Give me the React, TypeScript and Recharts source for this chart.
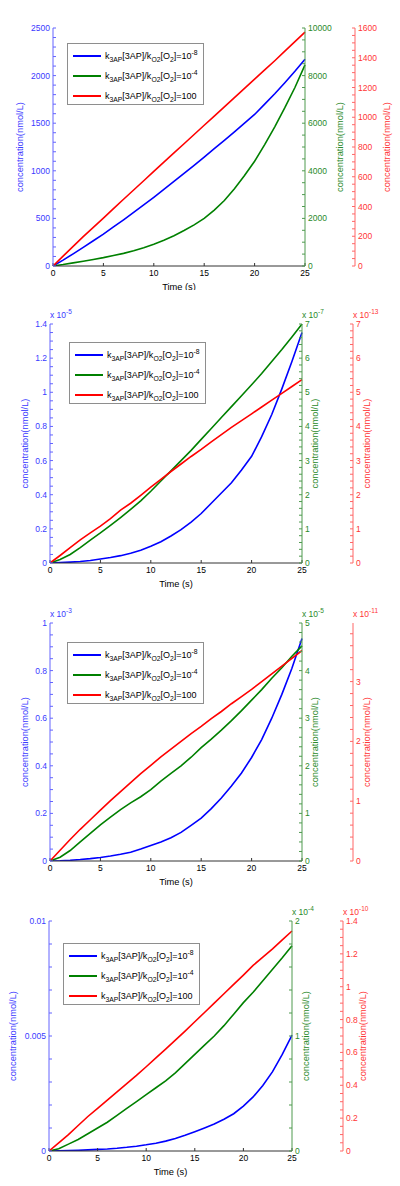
import React from "react";
import { LineChart, Line, XAxis, YAxis, Legend } from "recharts";

const FONT = '"Liberation Sans", Arial, Helvetica, sans-serif';

// time (s), one sample per second
const time = [0, 1, 2, 3, 4, 5, 6, 7, 8, 9, 10, 11, 12, 13, 14, 15, 16, 17, 18, 19, 20, 21, 22, 23, 24, 25];
const xTicks = [0, 5, 10, 15, 20, 25];

// k3AP[3AP]/kO2[O2] for the three runs (legend)
const ratioNames = ["10^-8", "10^-4", "100"];

// NO2, nmol/L
const no2Blue = [0, 62, 128, 196, 265, 334, 410, 485, 563, 642, 722, 805, 888, 972, 1058, 1144, 1232, 1320, 1410, 1500, 1592, 1700, 1810, 1925, 2045, 2172];
const no2Green = [0, 60, 130, 200, 275, 352, 440, 530, 640, 770, 915, 1080, 1270, 1490, 1730, 2000, 2350, 2750, 3250, 3800, 4400, 5100, 5850, 6650, 7500, 8450];
const no2Red = [0, 66, 132, 197, 260, 322, 386, 449, 511, 573, 636, 698, 760, 822, 884, 946, 1008, 1070, 1132, 1194, 1256, 1318, 1380, 1444, 1508, 1572];

// CH3CO, blue x1e-5, green x1e-7, red x1e-13
const ch3coBlue = [0, 0.002, 0.005, 0.009, 0.015, 0.023, 0.032, 0.043, 0.057, 0.075, 0.098, 0.125, 0.158, 0.195, 0.24, 0.29, 0.35, 0.41, 0.47, 0.545, 0.625, 0.74, 0.87, 1.02, 1.18, 1.35];
const ch3coGreen = [0, 0.1, 0.25, 0.45, 0.67, 0.88, 1.1, 1.33, 1.57, 1.82, 2.1, 2.4, 2.7, 3.0, 3.3, 3.62, 3.94, 4.26, 4.58, 4.9, 5.22, 5.55, 5.9, 6.25, 6.62, 7.0];
const ch3coRed = [0, 0.22, 0.45, 0.68, 0.88, 1.08, 1.3, 1.55, 1.75, 1.98, 2.22, 2.45, 2.68, 2.9, 3.12, 3.33, 3.55, 3.76, 3.97, 4.17, 4.37, 4.57, 4.77, 4.97, 5.17, 5.37];

// OH, blue x1e-3, green x1e-5, red x1e-11
const ohBlue = [0, 0.001, 0.003, 0.006, 0.01, 0.015, 0.021, 0.028, 0.037, 0.05, 0.065, 0.08, 0.098, 0.12, 0.15, 0.18, 0.22, 0.265, 0.315, 0.37, 0.435, 0.51, 0.6, 0.7, 0.81, 0.935];
const ohGreen = [0, 0.08, 0.22, 0.4, 0.58, 0.76, 0.92, 1.08, 1.22, 1.35, 1.5, 1.68, 1.84, 2.0, 2.18, 2.38, 2.56, 2.75, 2.95, 3.16, 3.38, 3.6, 3.84, 4.06, 4.3, 4.52];
const ohRed = [0, 0.18, 0.36, 0.53, 0.69, 0.85, 1.01, 1.16, 1.31, 1.46, 1.6, 1.74, 1.87, 2.0, 2.13, 2.25, 2.38, 2.5, 2.63, 2.75, 2.87, 3.0, 3.13, 3.26, 3.39, 3.52];

// HO2, blue x1e-3 (axis shows plain values), green x1e-4, red x1e-10
const ho2Blue = [0, 0.005, 0.015, 0.03, 0.05, 0.07, 0.09, 0.12, 0.16, 0.21, 0.27, 0.34, 0.43, 0.54, 0.68, 0.84, 1.0, 1.17, 1.38, 1.62, 1.95, 2.35, 2.85, 3.45, 4.2, 5.04];
const ho2Green = [0, 0.02, 0.06, 0.1, 0.15, 0.2, 0.25, 0.31, 0.37, 0.43, 0.49, 0.55, 0.61, 0.68, 0.76, 0.84, 0.92, 1.0, 1.09, 1.19, 1.29, 1.38, 1.48, 1.58, 1.68, 1.785];
const ho2Red = [0, 0.05, 0.1, 0.155, 0.21, 0.26, 0.31, 0.36, 0.41, 0.46, 0.513, 0.567, 0.62, 0.675, 0.73, 0.787, 0.843, 0.9, 0.957, 1.014, 1.071, 1.13, 1.18, 1.23, 1.285, 1.339];

const COLORS = {
  b: { line: "#0000ff", axis: "#6464ff", text: "#3a3aff" },
  g: { line: "#008000", axis: "#4f9a4f", text: "#2a8a2a" },
  r: { line: "#ff0000", axis: "#ff6666", text: "#ff3535" },
};

interface AxisSpec {
  max: number;
  major: number;
  minor: number;
  titleDx: number;
  exp?: string;
  scale?: number;
}

interface PanelSpec {
  title: string;
  height: number;
  top: number;
  plotH: number;
  left: number;
  plotW: number;
  greenW: number;
  titleDy: number;
  legendX: number;
  legendY: number;
  blue: number[];
  green: number[];
  red: number[];
  b: AxisSpec;
  g: AxisSpec;
  r: AxisSpec;
}

const panels: PanelSpec[] = [
  {
    title: "NO_2", height: 290, top: 28, plotH: 238, left: 53, plotW: 252, greenW: 50, titleDy: -11, legendX: 67, legendY: 43,
    blue: no2Blue, green: no2Green, red: no2Red,
    b: { max: 2500, major: 500, minor: 100, titleDx: -33 },
    g: { max: 10000, major: 2000, minor: 500, titleDx: 35 },
    r: { max: 1600, major: 200, minor: 50, titleDx: 32 },
  },
  {
    title: "CH_3CO", height: 300, top: 34, plotH: 239, left: 50, plotW: 252, greenW: 51, titleDy: -15, legendX: 69, legendY: 52,
    blue: ch3coBlue, green: ch3coGreen, red: ch3coRed,
    b: { max: 1.4, major: 0.2, minor: 0.05, titleDx: -25, exp: "-5" },
    g: { max: 7, major: 1, minor: 0.2, titleDx: 13, exp: "-7" },
    r: { max: 7, major: 1, minor: 0.2, titleDx: 14, exp: "-13" },
  },
  {
    title: "OH", height: 300, top: 33, plotH: 238, left: 50, plotW: 252, greenW: 51, titleDy: -11, legendX: 67, legendY: 52,
    blue: ohBlue, green: ohGreen, red: ohRed,
    b: { max: 1, major: 0.2, minor: 0.05, titleDx: -25, exp: "-3" },
    g: { max: 5, major: 1, minor: 0.2, titleDx: 13, exp: "-5" },
    r: { max: 3.98, major: 1, minor: 0.2, titleDx: 14, exp: "-11" },
  },
  {
    title: "HO_2", height: 296, top: 31, plotH: 230, left: 49, plotW: 243, greenW: 51, titleDy: -11, legendX: 63, legendY: 53,
    blue: ho2Blue, green: ho2Green, red: ho2Red,
    b: { max: 10, major: 5, minor: 1, titleDx: -36, scale: 0.001 },
    g: { max: 2, major: 1, minor: 0.2, titleDx: 14, exp: "-4" },
    r: { max: 1.4, major: 0.2, minor: 0.05, titleDx: 20, exp: "-10" },
  },
];

function tickList(max: number, step: number) {
  const n = Math.floor(max / step + 1e-9);
  return Array.from({ length: n + 1 }, (_, i) => +(i * step).toFixed(6));
}

function majorFormatter(major: number, scale = 1) {
  return (v: number) => {
    const k = v / major;
    if (Math.abs(k - Math.round(k)) > 1e-6) return "";
    return String(+(v * scale).toFixed(6));
  };
}

function withSubs(text: string, size: number) {
  const parts = text.split(/_(.)/);
  return parts.map((p, i) =>
    i % 2 ? (
      <tspan key={i} dy={3} fontSize={size * 0.75}>{p}</tspan>
    ) : (
      <tspan key={i} dy={i > 0 ? -3 : 0}>{p}</tspan>
    )
  );
}

// eslint-disable-next-line @typescript-eslint/no-explicit-any
function AxisTitle(props: any) {
  const { viewBox, side, shift, tint, exp } = props;
  if (!viewBox) return null;
  const { x, y, width, height } = viewBox;
  const axisX = side === "left" ? x + width : x;
  const cx = axisX + shift;
  const cy = y + height / 2;
  return (
    <g>
      <text x={cx} y={cy} transform={`rotate(-90 ${cx} ${cy})`} textAnchor="middle" dominantBaseline="central" fill={tint} fontSize={9.3} fontFamily={FONT}>
        concentration(nmol/L)
      </text>
      {exp && (
        <text x={axisX} y={y - 6} fill={tint} fontSize={8.5} fontFamily={FONT}>
          x 10<tspan dy={-4} fontSize={6.5}>{exp}</tspan>
        </text>
      )}
    </g>
  );
}

// eslint-disable-next-line @typescript-eslint/no-explicit-any
function TimeLabel({ viewBox }: any) {
  if (!viewBox) return null;
  return (
    <text x={viewBox.x + viewBox.width / 2} y={viewBox.y + 20.5} textAnchor="middle" dominantBaseline="central" fill="#000" fontSize={9.3} fontFamily={FONT}>
      Time (s)
    </text>
  );
}

// eslint-disable-next-line @typescript-eslint/no-explicit-any
function PanelTitle(props: any) {
  const { viewBox, text, lift } = props;
  if (!viewBox) return null;
  return (
    <text x={viewBox.x + viewBox.width / 2} y={viewBox.y + lift} textAnchor="middle" dominantBaseline="central" fill="#000" fontSize={9.3} fontFamily={FONT}>
      {withSubs(text, 9.3)}
    </text>
  );
}

function ratioText(name: string) {
  const [base, exp] = name.split("^");
  const sub = { fontSize: 6.8, position: "relative" as const, top: 2.5 };
  return (
    <span>
      k<span style={sub}>3AP</span>[3AP]/k<span style={sub}>O2</span>[O<span style={sub}>2</span>]={base}
      {exp && <span style={{ fontSize: 6.8, position: "relative", top: -4 }}>{exp}</span>}
    </span>
  );
}

// eslint-disable-next-line @typescript-eslint/no-explicit-any
function RatioLegend({ payload }: any) {
  const items = [...(payload || [])].sort(
    (a: { value: string }, b: { value: string }) => ratioNames.indexOf(a.value) - ratioNames.indexOf(b.value)
  );
  return (
    <div
      style={{
        width: 137, height: 62, boxSizing: "border-box", border: "1px solid #8e8e8e", background: "#fff",
        paddingTop: 2, fontFamily: FONT, fontSize: 9, color: "#000",
      }}
    >
      {items.map((entry: { value: string; color: string }, i: number) => (
        <div key={i} style={{ display: "flex", alignItems: "center", height: 20, whiteSpace: "nowrap" }}>
          <span style={{ display: "inline-block", width: 28, height: 0, borderTop: `2px solid ${entry.color}`, marginLeft: 5, marginRight: 4 }} />
          {ratioText(entry.value)}
        </div>
      ))}
    </div>
  );
}

function yAxis(id: "b" | "g" | "r", spec: AxisSpec, width: number) {
  const c = COLORS[id];
  const side = id === "b" ? "left" : "right";
  return (
    <YAxis
      yAxisId={id}
      orientation={side}
      width={width}
      type="number"
      domain={[0, spec.max]}
      ticks={tickList(spec.max, spec.minor)}
      interval={0}
      allowDataOverflow
      tickFormatter={majorFormatter(spec.major, spec.scale)}
      tickSize={-3}
      tickMargin={6}
      axisLine={{ stroke: c.axis }}
      tickLine={{ stroke: c.axis }}
      tick={{ fill: c.text, fontSize: 8.5, fontFamily: FONT }}
      label={<AxisTitle side={side} shift={spec.titleDx} tint={c.text} exp={spec.exp} />}
    />
  );
}

function Panel({ spec }: { spec: PanelSpec }) {
  const rows = time.map((t, i) => ({ t, b: spec.blue[i], g: spec.green[i], r: spec.red[i] }));
  const redW = 400 - spec.left - spec.plotW - spec.greenW;
  const bottomH = spec.height - spec.top - spec.plotH;
  const series: ("b" | "g" | "r")[] = ["b", "g", "r"];
  return (
    <LineChart width={400} height={spec.height} data={rows} margin={{ top: spec.top, right: 0, bottom: 0, left: 0 }}>
      <XAxis
        dataKey="t"
        type="number"
        domain={[0, 25]}
        ticks={xTicks}
        interval={0}
        height={bottomH}
        tickSize={-3}
        tickMargin={7}
        axisLine={{ stroke: "#333" }}
        tickLine={{ stroke: "#333" }}
        tick={{ fill: "#000", fontSize: 8.5, fontFamily: FONT }}
        label={<TimeLabel />}
      />
      <XAxis
        xAxisId="top"
        orientation="top"
        dataKey="t"
        type="number"
        domain={[0, 25]}
        height={0}
        tick={false}
        tickLine={false}
        axisLine={{ stroke: "#a9a9d6" }}
        label={<PanelTitle text={spec.title} lift={spec.titleDy} />}
      />
      {yAxis("b", spec.b, spec.left)}
      {yAxis("g", spec.g, spec.greenW)}
      {yAxis("r", spec.r, redW)}
      <Legend
        layout="horizontal"
        verticalAlign="middle"
        align="center"
        wrapperStyle={{ left: spec.legendX, top: spec.legendY, width: 137, height: 62 }}
        content={RatioLegend}
      />
      {series.map((id, i) => (
        <Line
          key={id}
          yAxisId={id}
          dataKey={id}
          name={ratioNames[i]}
          type="linear"
          stroke={COLORS[id].line}
          strokeWidth={1.6}
          dot={false}
          activeDot={false}
          isAnimationActive={false}
        />
      ))}
    </LineChart>
  );
}

export default function App() {
  return (
    <div style={{ position: "absolute", left: 0, top: 0, width: 400, background: "#fff" }}>
      {panels.map((p) => (
        <Panel key={p.title} spec={p} />
      ))}
    </div>
  );
}
